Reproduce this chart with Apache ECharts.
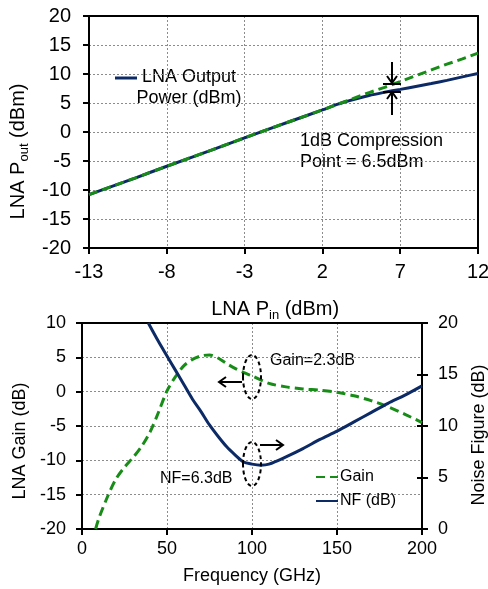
<!DOCTYPE html>
<html><head><meta charset="utf-8">
<script src="https://cdn.jsdelivr.net/npm/echarts@6/dist/echarts.min.js"></script>
<style>
html,body{margin:0;padding:0;background:#fff}
#wrap{position:relative;width:488px;height:589px;overflow:hidden}
#top{position:absolute;left:0;top:0;width:488px;height:322px;z-index:2}
#bot{position:absolute;left:0;top:300px;width:488px;height:289px;z-index:1}
</style>
</head><body><div id="wrap"><div id="top"></div><div id="bot"></div></div>
<script>
// ---- Top panel data: LNA output power vs input power ----
const pinDbm       = [-13, -10, -8, -5, -3, 0, 2, 3, 4, 5, 6, 7, 8, 9, 10, 11, 12];
const poutMeasured = [-10.8, -7.9, -5.9, -3.0, -1.0, 1.9, 3.8, 4.8, 5.6, 6.3, 6.85, 7.35, 7.85, 8.35, 8.9, 9.5, 10.1];
const poutLinear   = [-10.8, -7.9, -5.9, -3.0, -1.0, 1.9, 3.8, 4.8, 5.8, 6.8, 7.7, 8.7, 9.7, 10.7, 11.7, 12.6, 13.6];
const topXTicks = [-13, -8, -3, 2, 7, 12];
const topYTicks = [-20, -15, -10, -5, 0, 5, 10, 15, 20];

// ---- Bottom panel data: gain and noise figure vs frequency ----
const gainFreq = [8, 10, 15, 20, 25, 30, 35, 40, 45, 50, 55, 60, 65, 70, 75, 80, 85, 90, 95, 100, 110, 120, 130, 140, 150, 160, 170, 180, 190, 200];
const gainDb   = [-20, -18.4, -15.3, -12.7, -11.0, -9.6, -8.0, -5.9, -3.0, 0.1, 2.2, 3.8, 4.7, 5.2, 5.35, 4.9, 4.1, 3.4, 2.8, 2.3, 1.2, 0.7, 0.4, 0.2, -0.1, -0.6, -1.3, -2.2, -3.3, -4.5];
const nfFreq   = [39, 45, 50, 55, 60, 65, 70, 75, 80, 85, 90, 95, 100, 105, 110, 120, 130, 140, 150, 160, 170, 180, 190, 200];
const nfDb     = [20, 18.2, 16.8, 15.4, 14.0, 12.6, 11.4, 10.1, 9.0, 8.0, 7.2, 6.5, 6.3, 6.2, 6.3, 7.0, 7.8, 8.7, 9.5, 10.4, 11.3, 12.2, 13.0, 13.9];
const botXTicks = [0, 50, 100, 150, 200];
const gainTicks = [-20, -15, -10, -5, 0, 5, 10];
const nfTicks   = [0, 5, 10, 15, 20];

const FONT = "'Liberation Sans', Arial, sans-serif";
const NAVY = '#0c2a66';
const GREEN = '#178c17';
const zip = (xs, ys) => xs.map((x, i) => [x, ys[i]]);
const step = t => t[1] - t[0];
const last = t => t[t.length - 1];
const NB = '\u00a0';

function axisBase(fs, margin) {
  return {
    axisLine: { show: true, onZero: false, lineStyle: { color: '#000', width: 2 } },
    axisTick: { show: true, inside: false, length: 6, lineStyle: { color: '#000', width: 2 } },
    axisLabel: { color: '#000', fontSize: fs, fontFamily: FONT, margin: margin },
    splitLine: { show: true, lineStyle: { color: '#8c8c8c', type: [2, 2], width: 1 } },
    nameLocation: 'middle',
    nameTextStyle: { color: '#000', fontSize: fs, fontFamily: FONT }
  };
}
function frameAxis(position, ticks, innerTicks) {
  return {
    type: 'value', position: position,
    min: ticks[0], max: last(ticks), interval: step(ticks),
    axisLine: { show: !innerTicks, onZero: false, lineStyle: { color: '#000', width: 2 } },
    axisTick: innerTicks ? { show: true, inside: true, length: 5, lineStyle: { color: '#000', width: 2 } } : { show: false },
    axisLabel: { show: false }, splitLine: { show: false }
  };
}
const subRich = { sub: { fontSize: 13, fontFamily: FONT, color: '#000', padding: [12, 0, 0, 0] } };

// ---------------- Top chart ----------------
const topOption = {
  animation: false,
  grid: { left: 89, top: 16, width: 389, height: 232, outerBoundsMode: 'none' },
  xAxis: [
    Object.assign(axisBase(20, 14), {
      type: 'value', min: topXTicks[0], max: last(topXTicks), interval: step(topXTicks),
      name: 'LNA P{sub|in} (dBm)' + NB + NB + NB, nameGap: 49,
      nameTextStyle: { color: '#000', fontSize: 20, fontFamily: FONT, rich: subRich }
    }),
    frameAxis('top', topXTicks, false)
  ],
  yAxis: [
    Object.assign(axisBase(20, 18), {
      type: 'value', min: topYTicks[0], max: last(topYTicks), interval: step(topYTicks),
      name: 'LNA P{sub|out} (dBm)' + NB + NB + NB + NB + NB + NB + NB, nameGap: 52,
      nameTextStyle: { color: '#000', fontSize: 20, fontFamily: FONT, rich: subRich }
    }),
    frameAxis('right', topYTicks, false)
  ],
  series: [
    { name: 'LNA Output Power (dBm)', type: 'line', xAxisIndex: 0, yAxisIndex: 0,
      data: zip(pinDbm, poutMeasured), smooth: 0.3, showSymbol: false, symbol: 'none',
      lineStyle: { color: NAVY, width: 3 }, itemStyle: { color: NAVY }, z: 3 },
    { name: 'Linear extrapolation', type: 'line', xAxisIndex: 0, yAxisIndex: 0,
      data: zip(pinDbm, poutLinear), showSymbol: false, symbol: 'none',
      lineStyle: { color: GREEN, width: 3, type: [9, 5] }, itemStyle: { color: GREEN }, z: 4 }
  ],
  graphic: [
    { type: 'line', shape: { x1: 115, y1: 78, x2: 137, y2: 78 }, style: { stroke: NAVY, lineWidth: 3 } },
    { type: 'text', style: { text: 'LNA Output\nPower (dBm)', x: 189, y: 67, textAlign: 'center', textVerticalAlign: 'top', font: '18px ' + FONT, lineHeight: 21, fill: '#000' } },
    { type: 'text', style: { text: '1dB Compression\nPoint = 6.5dBm', x: 300, y: 131, textAlign: 'left', textVerticalAlign: 'top', font: '18px ' + FONT, lineHeight: 21, fill: '#000' } },
    { type: 'line', shape: { x1: 392, y1: 62, x2: 392, y2: 83 }, style: { stroke: '#000', lineWidth: 2 }, z: 10 },
    { type: 'polyline', shape: { points: [[387, 76], [392, 83], [397, 76]] }, style: { stroke: '#000', lineWidth: 2, fill: null }, z: 10 },
    { type: 'line', shape: { x1: 383, y1: 84, x2: 401, y2: 84 }, style: { stroke: '#000', lineWidth: 2 }, z: 10 },
    { type: 'line', shape: { x1: 392, y1: 115, x2: 392, y2: 92 }, style: { stroke: '#000', lineWidth: 2 }, z: 10 },
    { type: 'polyline', shape: { points: [[387, 99], [392, 92], [397, 99]] }, style: { stroke: '#000', lineWidth: 2, fill: null }, z: 10 },
    { type: 'line', shape: { x1: 383, y1: 92, x2: 401, y2: 92 }, style: { stroke: '#000', lineWidth: 2 }, z: 10 }
  ]
};

// ---------------- Bottom chart (its canvas starts at page y = 300) ----------------
const botOption = {
  animation: false,
  grid: { left: 82, top: 23, width: 340, height: 206, outerBoundsMode: 'none' },
  xAxis: [
    Object.assign(axisBase(18, 11), {
      type: 'value', min: botXTicks[0], max: last(botXTicks), interval: step(botXTicks),
      name: 'Frequency (GHz)', nameGap: 38
    }),
    frameAxis('top', botXTicks, false)
  ],
  yAxis: [
    Object.assign(axisBase(18, 16), {
      type: 'value', position: 'left',
      min: gainTicks[0], max: last(gainTicks), interval: step(gainTicks),
      name: 'LNA Gain (dB)', nameGap: 47,
      nameTextStyle: { color: '#000', fontSize: 18, fontFamily: FONT, padding: [0, 30, 0, 0] }
    }),
    Object.assign(axisBase(18, 16), {
      type: 'value', position: 'right',
      min: nfTicks[0], max: last(nfTicks), interval: step(nfTicks),
      splitLine: { show: false },
      name: 'Noise Figure (dB)', nameGap: 48,
      nameTextStyle: { color: '#000', fontSize: 18, fontFamily: FONT, padding: [0, 18, 0, 0] }
    }),
    frameAxis('right', nfTicks, true)
  ],
  legend: {
    data: ['Gain', 'NF (dB)'], orient: 'vertical', left: 310, top: 164,
    itemWidth: 22, itemHeight: 12, itemGap: 8, itemStyle: { opacity: 0 },
    textStyle: { color: '#000', fontSize: 16, fontFamily: FONT, padding: [0, 0, 0, -3] }
  },
  series: [
    { name: 'Gain', type: 'line', xAxisIndex: 0, yAxisIndex: 0,
      data: zip(gainFreq, gainDb), smooth: 0.3, showSymbol: false, symbol: 'none',
      lineStyle: { color: GREEN, width: 3, type: [9, 5] }, itemStyle: { color: GREEN }, z: 3 },
    { name: 'NF (dB)', type: 'line', xAxisIndex: 0, yAxisIndex: 1,
      data: zip(nfFreq, nfDb), smooth: 0.3, showSymbol: false, symbol: 'none',
      lineStyle: { color: NAVY, width: 3 }, itemStyle: { color: NAVY }, z: 4 }
  ],
  graphic: [
    { type: 'ellipse', shape: { cx: 252, cy: 77, rx: 9, ry: 22 }, style: { stroke: '#000', lineWidth: 2, fill: null, lineDash: [4, 3] }, z: 10 },
    { type: 'ellipse', shape: { cx: 252, cy: 164, rx: 9, ry: 22 }, style: { stroke: '#000', lineWidth: 2, fill: null, lineDash: [4, 3] }, z: 10 },
    { type: 'line', shape: { x1: 242, y1: 82, x2: 219, y2: 82 }, style: { stroke: '#000', lineWidth: 2 }, z: 10 },
    { type: 'polyline', shape: { points: [[226, 77], [219, 82], [226, 87]] }, style: { stroke: '#000', lineWidth: 2, fill: null }, z: 10 },
    { type: 'line', shape: { x1: 260, y1: 145, x2: 283, y2: 145 }, style: { stroke: '#000', lineWidth: 2 }, z: 10 },
    { type: 'polyline', shape: { points: [[276, 140], [283, 145], [276, 150]] }, style: { stroke: '#000', lineWidth: 2, fill: null }, z: 10 },
    { type: 'text', style: { text: 'Gain=2.3dB', x: 270, y: 61, textAlign: 'left', textVerticalAlign: 'middle', font: '16px ' + FONT, fill: '#000' } },
    { type: 'text', style: { text: 'NF=6.3dB', x: 160, y: 179, textAlign: 'left', textVerticalAlign: 'middle', font: '16px ' + FONT, fill: '#000' } }
  ]
};

echarts.init(document.getElementById('top')).setOption(topOption);
echarts.init(document.getElementById('bot')).setOption(botOption);
</script>
</body></html>
